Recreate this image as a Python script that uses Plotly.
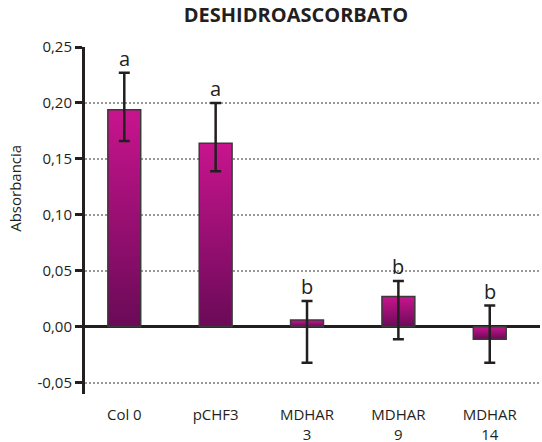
import plotly.graph_objects as go

categories = ["Col 0", "pCHF3", "MDHAR<br>3", "MDHAR<br>9", "MDHAR<br>14"]
values = [0.194, 0.164, 0.006, 0.027, -0.011]
err_plus = [0.033, 0.036, 0.017, 0.014, 0.030]
err_minus = [0.028, 0.025, 0.038, 0.038, 0.021]
letters = ["a", "a", "b", "b", "b"]
ytick_vals = [-0.05, 0.0, 0.05, 0.10, 0.15, 0.20, 0.25]
ytick_text = ["-0,05", "0,00", "0,05", "0,10", "0,15", "0,20", "0,25"]

FONT = "Open Sans"
DARK = "#231f20"
BAR_W = 0.36
xpos = list(range(len(categories)))

fig = go.Figure()

for i, v in zip(xpos, values):
    fig.add_trace(go.Scatter(
        x=[i - BAR_W / 2, i + BAR_W / 2, i + BAR_W / 2, i - BAR_W / 2, i - BAR_W / 2],
        y=[0, 0, v, v, 0],
        mode="lines",
        fill="toself",
        fillgradient=dict(type="vertical",
                          colorscale=[[0, "#6a0a57"], [1, "#c8148e"]]),
        line=dict(color="#3a3a3a", width=1.5),
        hoverinfo="skip",
        showlegend=False,
    ))

fig.add_trace(go.Scatter(
    x=xpos, y=values, mode="markers",
    marker=dict(size=1, color="rgba(0,0,0,0)"),
    error_y=dict(type="data", symmetric=False, array=err_plus, arrayminus=err_minus,
                 color=DARK, thickness=2.5, width=5.5),
    showlegend=False, hoverinfo="skip",
))

for i, v, ep, lt in zip(xpos, values, err_plus, letters):
    fig.add_annotation(x=i, y=v + ep, text=lt, showarrow=False,
                       yanchor="bottom", yshift=0, borderpad=0,
                       font=dict(family=FONT, size=20, color=DARK))

fig.add_annotation(text="Absorbancia", xref="paper", yref="paper",
                   x=-0.154, y=0.594, xanchor="center", yanchor="middle",
                   textangle=-90, showarrow=False,
                   font=dict(family=FONT, size=15, color=DARK))

fig.update_layout(
    width=542, height=442,
    margin=dict(l=85, r=2, t=47, b=48),
    paper_bgcolor="white", plot_bgcolor="white",
    font=dict(family=FONT, size=15, color=DARK),
    title=dict(text="<b>DESHIDROASCORBATO</b>", x=0.546, xref="container",
               xanchor="center", y=1 - 15 / 442, yanchor="middle",
               font=dict(family=FONT, size=20, color=DARK)),
    xaxis=dict(range=[-0.43, 4.55], tickvals=xpos, ticktext=categories,
               showgrid=False, zeroline=False, showline=False, ticks="",
               ticklabelstandoff=10, automargin=False,
               tickfont=dict(family=FONT, size=15, color=DARK)),
    yaxis=dict(range=[-0.06, 0.25], tickvals=ytick_vals, ticktext=ytick_text,
               showgrid=True, gridcolor="#999999", griddash="1.5px,2.5px", gridwidth=1.5,
               zeroline=True, zerolinecolor=DARK, zerolinewidth=3,
               showline=True, linecolor=DARK, linewidth=3, automargin=False,
               ticks="outside", ticklen=7, tickwidth=3, tickcolor=DARK,
               tickfont=dict(family=FONT, size=15, color=DARK)),
)

fig.write_html("out.html", config={"displayModeBar": False},
               post_script="document.body.style.margin='0';document.body.style.padding='0';")
